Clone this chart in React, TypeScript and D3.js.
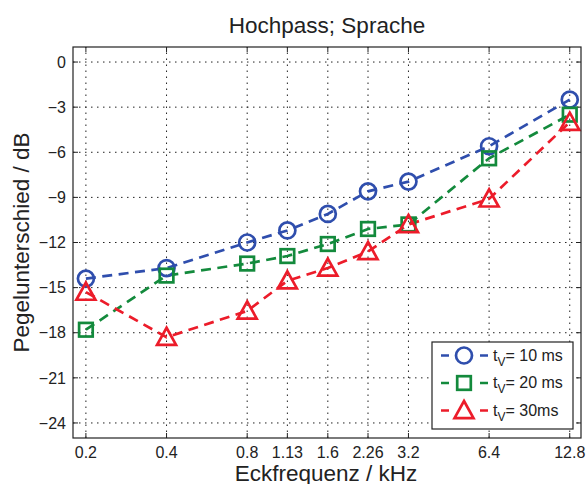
import React, { useEffect, useRef } from 'react';
import * as d3 from 'd3';

// Eckfrequenzen in kHz
const freqs = [0.2, 0.4, 0.8, 1.13, 1.6, 2.26, 3.2, 6.4, 12.8];
const xTickLabels = ['0.2', '0.4', '0.8', '1.13', '1.6', '2.26', '3.2', '6.4', '12.8'];
const yTicks = [0, -3, -6, -9, -12, -15, -18, -21, -24];

const tv10 = [-14.4, -13.7, -12.0, -11.2, -10.1, -8.6, -7.95, -5.6, -2.5];
const tv20 = [-17.8, -14.2, -13.4, -12.9, -12.1, -11.1, -10.8, -6.4, -3.5];
const tv30 = [-15.3, -18.3, -16.55, -14.55, -13.7, -12.6, -10.8, -9.1, -4.0];

const seriesNames = ['10 ms', '20 ms', '30ms'];

const series = [
  { name: seriesNames[0], values: tv10, color: '#2f4ead', marker: 'circle' },
  { name: seriesNames[1], values: tv20, color: '#138a3c', marker: 'square' },
  { name: seriesNames[2], values: tv30, color: '#ec1c2a', marker: 'triangle' },
];

const W = 587;
const H = 484;
const margin = { top: 47, right: 6, bottom: 46, left: 73 };
const font = '"Liberation Sans", Arial, Helvetica, sans-serif';

function drawMarker(g: any, type: string, x: number, y: number, color: string) {
  if (type === 'circle') {
    g.append('circle').attr('cx', x).attr('cy', y).attr('r', 8)
      .attr('fill', 'none').attr('stroke', color).attr('stroke-width', 2.7);
  } else if (type === 'square') {
    g.append('rect').attr('x', x - 6.8).attr('y', y - 6.8).attr('width', 13.6).attr('height', 13.6)
      .attr('fill', 'none').attr('stroke', color).attr('stroke-width', 2.7);
  } else {
    const s = 9.5;
    g.append('path')
      .attr('d', `M${x},${y - s}L${x + s},${y + s * 0.8}L${x - s},${y + s * 0.8}Z`)
      .attr('fill', 'none').attr('stroke', color).attr('stroke-width', 2.7)
      .attr('stroke-linejoin', 'miter');
  }
}

export default function App() {
  const ref = useRef<SVGSVGElement>(null);

  useEffect(() => {
    const svg = d3.select(ref.current);
    svg.selectAll('*').remove();

    const x = d3.scaleLog().base(2).domain([0.179, 14.1]).range([margin.left, W - margin.right]);
    const y = d3.scaleLinear().domain([-25, 1]).range([H - margin.bottom, margin.top]);
    const x0 = margin.left, x1 = W - margin.right;
    const y0 = H - margin.bottom, y1 = margin.top;

    svg.append('rect').attr('width', W).attr('height', H).attr('fill', '#fff');

    // grid
    const grid = svg.append('g').attr('stroke', '#222').attr('stroke-width', 1)
      .attr('stroke-dasharray', '1.5,4.5');
    freqs.forEach(f => {
      grid.append('line').attr('x1', x(f)).attr('x2', x(f)).attr('y1', y0).attr('y2', y1);
    });
    yTicks.forEach(v => {
      grid.append('line').attr('x1', x0).attr('x2', x1).attr('y1', y(v)).attr('y2', y(v));
    });

    // ticks inward
    const ticks = svg.append('g').attr('stroke', '#222').attr('stroke-width', 1);
    freqs.forEach(f => {
      ticks.append('line').attr('x1', x(f)).attr('x2', x(f)).attr('y1', y0).attr('y2', y0 - 5);
      ticks.append('line').attr('x1', x(f)).attr('x2', x(f)).attr('y1', y1).attr('y2', y1 + 5);
    });
    yTicks.forEach(v => {
      ticks.append('line').attr('x1', x0).attr('x2', x0 + 5).attr('y1', y(v)).attr('y2', y(v));
      ticks.append('line').attr('x1', x1).attr('x2', x1 - 5).attr('y1', y(v)).attr('y2', y(v));
    });

    // tick labels
    svg.append('g').selectAll('text').data(freqs).enter().append('text')
      .attr('x', d => x(d)).attr('y', 458)
      .attr('text-anchor', 'middle').attr('font-family', font).attr('font-size', 16)
      .attr('fill', '#222')
      .text((d, i) => xTickLabels[i]);
    svg.append('g').selectAll('text').data(yTicks).enter().append('text')
      .attr('x', 66).attr('y', d => y(d)).attr('dy', '0.36em')
      .attr('text-anchor', 'end').attr('font-family', font).attr('font-size', 16)
      .attr('fill', '#222')
      .text(d => (d < 0 ? '\u2212' + Math.abs(d) : String(d)));

    // series
    series.forEach(s => {
      const line = d3.line<number>().x((d, i) => x(freqs[i])).y(d => y(d));
      svg.append('path').datum(s.values).attr('d', line)
        .attr('fill', 'none').attr('stroke', s.color).attr('stroke-width', 2.7)
        .attr('stroke-dasharray', '10,6.5');
    });
    series.forEach(s => {
      const g = svg.append('g');
      s.values.forEach((v, i) => drawMarker(g, s.marker, x(freqs[i]), y(v), s.color));
    });

    // axes box
    svg.append('rect').attr('x', x0).attr('y', y1).attr('width', x1 - x0).attr('height', y0 - y1)
      .attr('fill', 'none').attr('stroke', '#222').attr('stroke-width', 1.2);

    // legend
    const lg = svg.append('g');
    lg.append('rect').attr('x', 432).attr('y', 342).attr('width', 141).attr('height', 87)
      .attr('fill', '#fff').attr('stroke', '#222').attr('stroke-width', 1.2);
    series.forEach((s, i) => {
      const ly = 355.5 + i * 27.5;
      lg.append('line').attr('x1', 441).attr('x2', 488).attr('y1', ly).attr('y2', ly)
        .attr('stroke', s.color).attr('stroke-width', 2.7).attr('stroke-dasharray', '8,31,8');
      drawMarker(lg, s.marker, 464, ly, s.color);
      const t = lg.append('text').attr('x', 493).attr('y', ly + 5)
        .attr('font-family', font).attr('font-size', 16).attr('fill', '#222');
      t.append('tspan').text('t');
      t.append('tspan').attr('font-size', 12).attr('dy', 5).text('V');
      t.append('tspan').attr('dy', -5).text('= ' + s.name);
    });

    // title and labels
    svg.append('text').attr('x', (x0 + x1) / 2).attr('y', 33).attr('text-anchor', 'middle')
      .attr('font-family', font).attr('font-size', 22.5).attr('fill', '#222')
      .text('Hochpass; Sprache');
    svg.append('text').attr('x', 326).attr('y', 481).attr('text-anchor', 'middle')
      .attr('font-family', font).attr('font-size', 22.5).attr('fill', '#222')
      .text('Eckfrequenz / kHz');
    svg.append('text').attr('transform', `translate(29,${(y0 + y1) / 2}) rotate(-90)`)
      .attr('text-anchor', 'middle')
      .attr('font-family', font).attr('font-size', 22.5).attr('fill', '#222')
      .text('Pegelunterschied / dB');
  }, []);

  return (
    <div style={{ position: 'absolute', left: 0, top: 0 }}>
      <svg ref={ref} width={W} height={H}></svg>
    </div>
  );
}
